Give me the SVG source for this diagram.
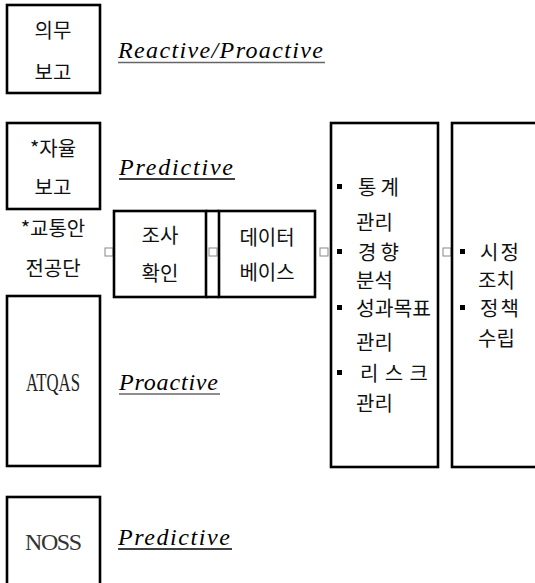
<svg xmlns="http://www.w3.org/2000/svg" width="535" height="583" viewBox="0 0 535 583">
<style>
.box{fill:#fff;stroke:#000;stroke-width:2.6}
.ko{font-family:"Noto Sans CJK KR","Noto Sans",sans-serif;font-size:20px;fill:#111}
.it{font-family:"Liberation Serif",serif;font-style:italic;font-size:24px;fill:#000}
.ul{stroke-width:1.4}
.port{fill:#fff;stroke:#888;stroke-width:1}
.mid{text-anchor:middle}
</style>
<rect width="535" height="583" fill="#fff"/>
<g id="connectors">
<line x1="206" y1="211" x2="219" y2="211" stroke="#000" stroke-width="2.6"/>
<line x1="206" y1="297" x2="219" y2="297" stroke="#000" stroke-width="2.6"/>
<rect class="port" x="105" y="248" width="8" height="8"/>
<rect class="port" x="209" y="248" width="8" height="8"/>
<rect class="port" x="320" y="248" width="8" height="8"/>
<rect class="port" x="443" y="248" width="8" height="8"/>
</g>
<g id="mandatory">
<rect class="box" x="7" y="5" width="93" height="88"/>
<text class="ko mid" x="53" y="38">의무</text>
<text class="ko mid" x="53" y="80">보고</text>
<text class="it" x="118" y="58" textLength="205" lengthAdjust="spacing">Reactive/Proactive</text>
<line class="ul" x1="118" y1="62.5" x2="325" y2="62.5" stroke="#666"/>
</g>
<g id="voluntary">
<rect class="box" x="7" y="123" width="93" height="86"/>
<text class="ko mid" x="53" y="156">*자율</text>
<text class="ko mid" x="53" y="195">보고</text>
<text class="it" x="119" y="175" textLength="114" lengthAdjust="spacing">Predictive</text>
<line class="ul" x1="119" y1="179" x2="235" y2="179" stroke="#000"/>
</g>
<g id="board">
<text class="ko mid" x="53" y="236">*교통안</text>
<text class="ko mid" x="53" y="276">전공단</text>
</g>
<g id="investigation">
<rect class="box" x="114" y="211" width="92" height="86"/>
<text class="ko mid" x="160" y="243">조사</text>
<text class="ko mid" x="160" y="281">확인</text>
</g>
<g id="database">
<rect class="box" x="219" y="211" width="96" height="86"/>
<text class="ko mid" x="267" y="245">데이터</text>
<text class="ko mid" x="267" y="280">베이스</text>
</g>
<g id="atqas">
<rect class="box" x="7" y="296" width="93" height="170"/>
<text x="53" y="391" text-anchor="middle" font-family="Liberation Serif,serif" font-size="26" textLength="54" lengthAdjust="spacingAndGlyphs" fill="#222">ATQAS</text>
<text class="it" x="119" y="390" textLength="99" lengthAdjust="spacing">Proactive</text>
<line class="ul" x1="119" y1="394" x2="220" y2="394" stroke="#666"/>
</g>
<g id="noss">
<rect class="box" x="7" y="497" width="93" height="110"/>
<text x="25" y="550" font-family="Liberation Serif,serif" font-size="24" textLength="57" lengthAdjust="spacing" fill="#333">NOSS</text>
<text class="it" x="118" y="545" textLength="112" lengthAdjust="spacing">Predictive</text>
<line class="ul" x1="118" y1="549" x2="232" y2="549" stroke="#000"/>
</g>
<g id="management">
<rect class="box" x="331" y="123" width="107" height="344"/>
<g fill="#000">
<rect x="337" y="184" width="5" height="5"/>
<rect x="337" y="249" width="5" height="5"/>
<rect x="337" y="305" width="5" height="5"/>
<rect x="337" y="370" width="5" height="5"/>
</g>
<text class="ko" x="358" y="195" letter-spacing="4">통계</text>
<text class="ko" x="356" y="230">관리</text>
<text class="ko" x="358" y="260" letter-spacing="4">경향</text>
<text class="ko" x="356" y="288">분석</text>
<text class="ko" x="356" y="316" textLength="75" lengthAdjust="spacingAndGlyphs">성과목표</text>
<text class="ko" x="356" y="350">관리</text>
<text class="ko" x="360" y="381" textLength="68" lengthAdjust="spacing">리스크</text>
<text class="ko" x="356" y="411">관리</text>
</g>
<g id="action">
<rect class="box" x="452" y="123" width="90" height="344"/>
<g fill="#000">
<rect x="460" y="249" width="5" height="5"/>
<rect x="460" y="305" width="5" height="5"/>
</g>
<text class="ko" x="480" y="260" letter-spacing="2">시정</text>
<text class="ko" x="478" y="288">조치</text>
<text class="ko" x="480" y="316" letter-spacing="2">정책</text>
<text class="ko" x="478" y="346">수립</text>
</g>
</svg>
